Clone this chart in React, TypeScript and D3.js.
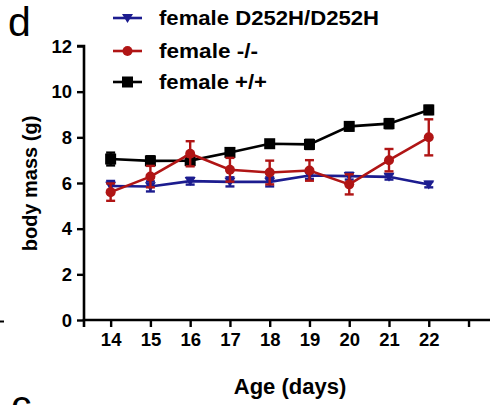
import React, { useEffect, useRef } from "react";
import * as d3 from "d3";

const days = [14, 15, 16, 17, 18, 19, 20, 21, 22];
const xTicks = [14, 15, 16, 17, 18, 19, 20, 21, 22, 23];
const xTickLabels = ["14", "15", "16", "17", "18", "19", "20", "21", "22", ""];
const yTicks = [0, 2, 4, 6, 8, 10, 12];

const wtMean = [7.05, 6.97, 6.98, 7.34, 7.72, 7.69, 8.48, 8.6, 9.2];
const wtErr = [0.28, 0.2, 0.2, 0.15, 0.15, 0.2, 0.18, 0.2, 0.18];
const koMean = [5.6, 6.28, 7.28, 6.58, 6.46, 6.55, 5.94, 7.0, 8.0];
const koErr = [0.38, 0.47, 0.55, 0.52, 0.52, 0.45, 0.44, 0.49, 0.79];
const kiMean = [5.87, 5.85, 6.08, 6.05, 6.05, 6.33, 6.3, 6.27, 5.93];
const kiErr = [0.22, 0.22, 0.15, 0.2, 0.2, 0.15, 0.15, 0.12, 0.12];

const legendLabels = ["female D252H/D252H", "female -/-", "female +/+"];
const legendWidths = [220, 99, 108];
const colors = ["#1c1c8f", "#b01515", "#000000"];
const shapes = ["triangleDown", "circle", "square"];

const FONT = "'Liberation Sans', Arial, Helvetica, sans-serif";

export default function App() {
  const ref = useRef<SVGSVGElement | null>(null);

  useEffect(() => {
    document.body.style.margin = "0";
    const svg = d3.select(ref.current);
    svg.selectAll("*").remove();

    const x = d3.scaleLinear().domain([13.33, 23.54]).range([84, 490]);
    const y = d3.scaleLinear().domain([0, 12]).range([320, 46]);

    const series = [
      { mean: kiMean, err: kiErr, color: colors[0], shape: shapes[0] },
      { mean: koMean, err: koErr, color: colors[1], shape: shapes[1] },
      { mean: wtMean, err: wtErr, color: colors[2], shape: shapes[2] },
    ];

    const drawMarker = (g: any, shape: string, cx: number, cy: number, color: string) => {
      if (shape === "square") {
        g.append("rect").attr("x", cx - 5.5).attr("y", cy - 5.5).attr("width", 11).attr("height", 11).attr("fill", color);
      } else if (shape === "circle") {
        g.append("circle").attr("cx", cx).attr("cy", cy).attr("r", 5).attr("fill", color);
      } else {
        const s = 5.5;
        g.append("path")
          .attr("d", `M${cx - s},${cy - s * 0.75}L${cx + s},${cy - s * 0.75}L${cx},${cy + s * 0.9}Z`)
          .attr("fill", color);
      }
    };

    const order = [2, 0, 1];
    order.forEach((si) => {
      const s = series[si];
      const g = svg.append("g");
      const line = d3
        .line<number>()
        .x((_, i) => x(days[i]))
        .y((d) => y(d));
      g.append("path")
        .attr("d", line(s.mean))
        .attr("fill", "none")
        .attr("stroke", s.color)
        .attr("stroke-width", 2.6);
      s.mean.forEach((m, i) => {
        const cx = x(days[i]);
        const y1 = y(m + s.err[i]);
        const y2 = y(m - s.err[i]);
        g.append("line").attr("x1", cx).attr("x2", cx).attr("y1", y1).attr("y2", y2).attr("stroke", s.color).attr("stroke-width", 2.4);
        [y1, y2].forEach((yy) =>
          g.append("line").attr("x1", cx - 4.5).attr("x2", cx + 4.5).attr("y1", yy).attr("y2", yy).attr("stroke", s.color).attr("stroke-width", 2.4)
        );
        drawMarker(g, s.shape, cx, y(m), s.color);
      });
    });

    const yAxis = d3.axisLeft(y).tickValues(yTicks).tickSize(7).tickPadding(5).tickFormat(d3.format("d") as any);
    const gy = svg.append("g").attr("transform", "translate(84,0)").call(yAxis);
    const xAxis = d3
      .axisBottom(x)
      .tickValues(xTicks)
      .tickSize(7)
      .tickPadding(6)
      .tickFormat((d: any, i: number) => xTickLabels[i]);
    const gx = svg.append("g").attr("transform", "translate(0,320)").call(xAxis);
    [gx, gy].forEach((g) => {
      g.select(".domain").attr("stroke", "#000").attr("stroke-width", 2.6);
      g.selectAll(".tick line").attr("stroke", "#000").attr("stroke-width", 2.4);
      g.selectAll("text").attr("font-family", FONT).attr("font-weight", "bold").attr("font-size", 18.5).attr("fill", "#000");
    });
    gy.selectAll("text").attr("dy", "0.34em");
    gx.select(".domain").attr("d", "M84,7V0H490");
    gy.select(".domain").attr("d", "M-7,46H0V321");

    svg
      .append("text")
      .attr("x", 290)
      .attr("y", 394)
      .attr("text-anchor", "middle")
      .attr("font-family", FONT)
      .attr("font-weight", "bold")
      .attr("font-size", 22)
      .text("Age (days)");
    svg
      .append("text")
      .attr("transform", "translate(37,183.5) rotate(-90)")
      .attr("text-anchor", "middle")
      .attr("font-family", FONT)
      .attr("font-weight", "bold")
      .attr("font-size", 20)
      .text("body mass (g)");

    const legendY = [18, 51, 82];
    legendLabels.forEach((lab, i) => {
      const g = svg.append("g");
      g.append("line").attr("x1", 113).attr("x2", 142).attr("y1", legendY[i]).attr("y2", legendY[i]).attr("stroke", colors[i]).attr("stroke-width", 2.6);
      drawMarker(g, shapes[i], 127.5, legendY[i], colors[i]);
      g.append("text")
        .attr("x", 159)
        .attr("y", legendY[i] + 7)
        .attr("font-family", FONT)
        .attr("font-weight", "bold")
        .attr("font-size", 20)
        .attr("textLength", legendWidths[i])
        .attr("lengthAdjust", "spacingAndGlyphs")
        .text(lab);
    });

    svg.append("text").attr("x", 8).attr("y", 36).attr("font-family", FONT).attr("font-size", 41).text("d");
    svg.append("text").attr("x", 11).attr("y", 419).attr("font-family", FONT).attr("font-size", 41).text("c");
    svg.append("line").attr("x1", 0).attr("x2", 4).attr("y1", 321.5).attr("y2", 321.5).attr("stroke", "#000").attr("stroke-width", 2);
  }, []);

  return <svg ref={ref} width={490} height={405} style={{ display: "block", background: "#fff" }} />;
}
